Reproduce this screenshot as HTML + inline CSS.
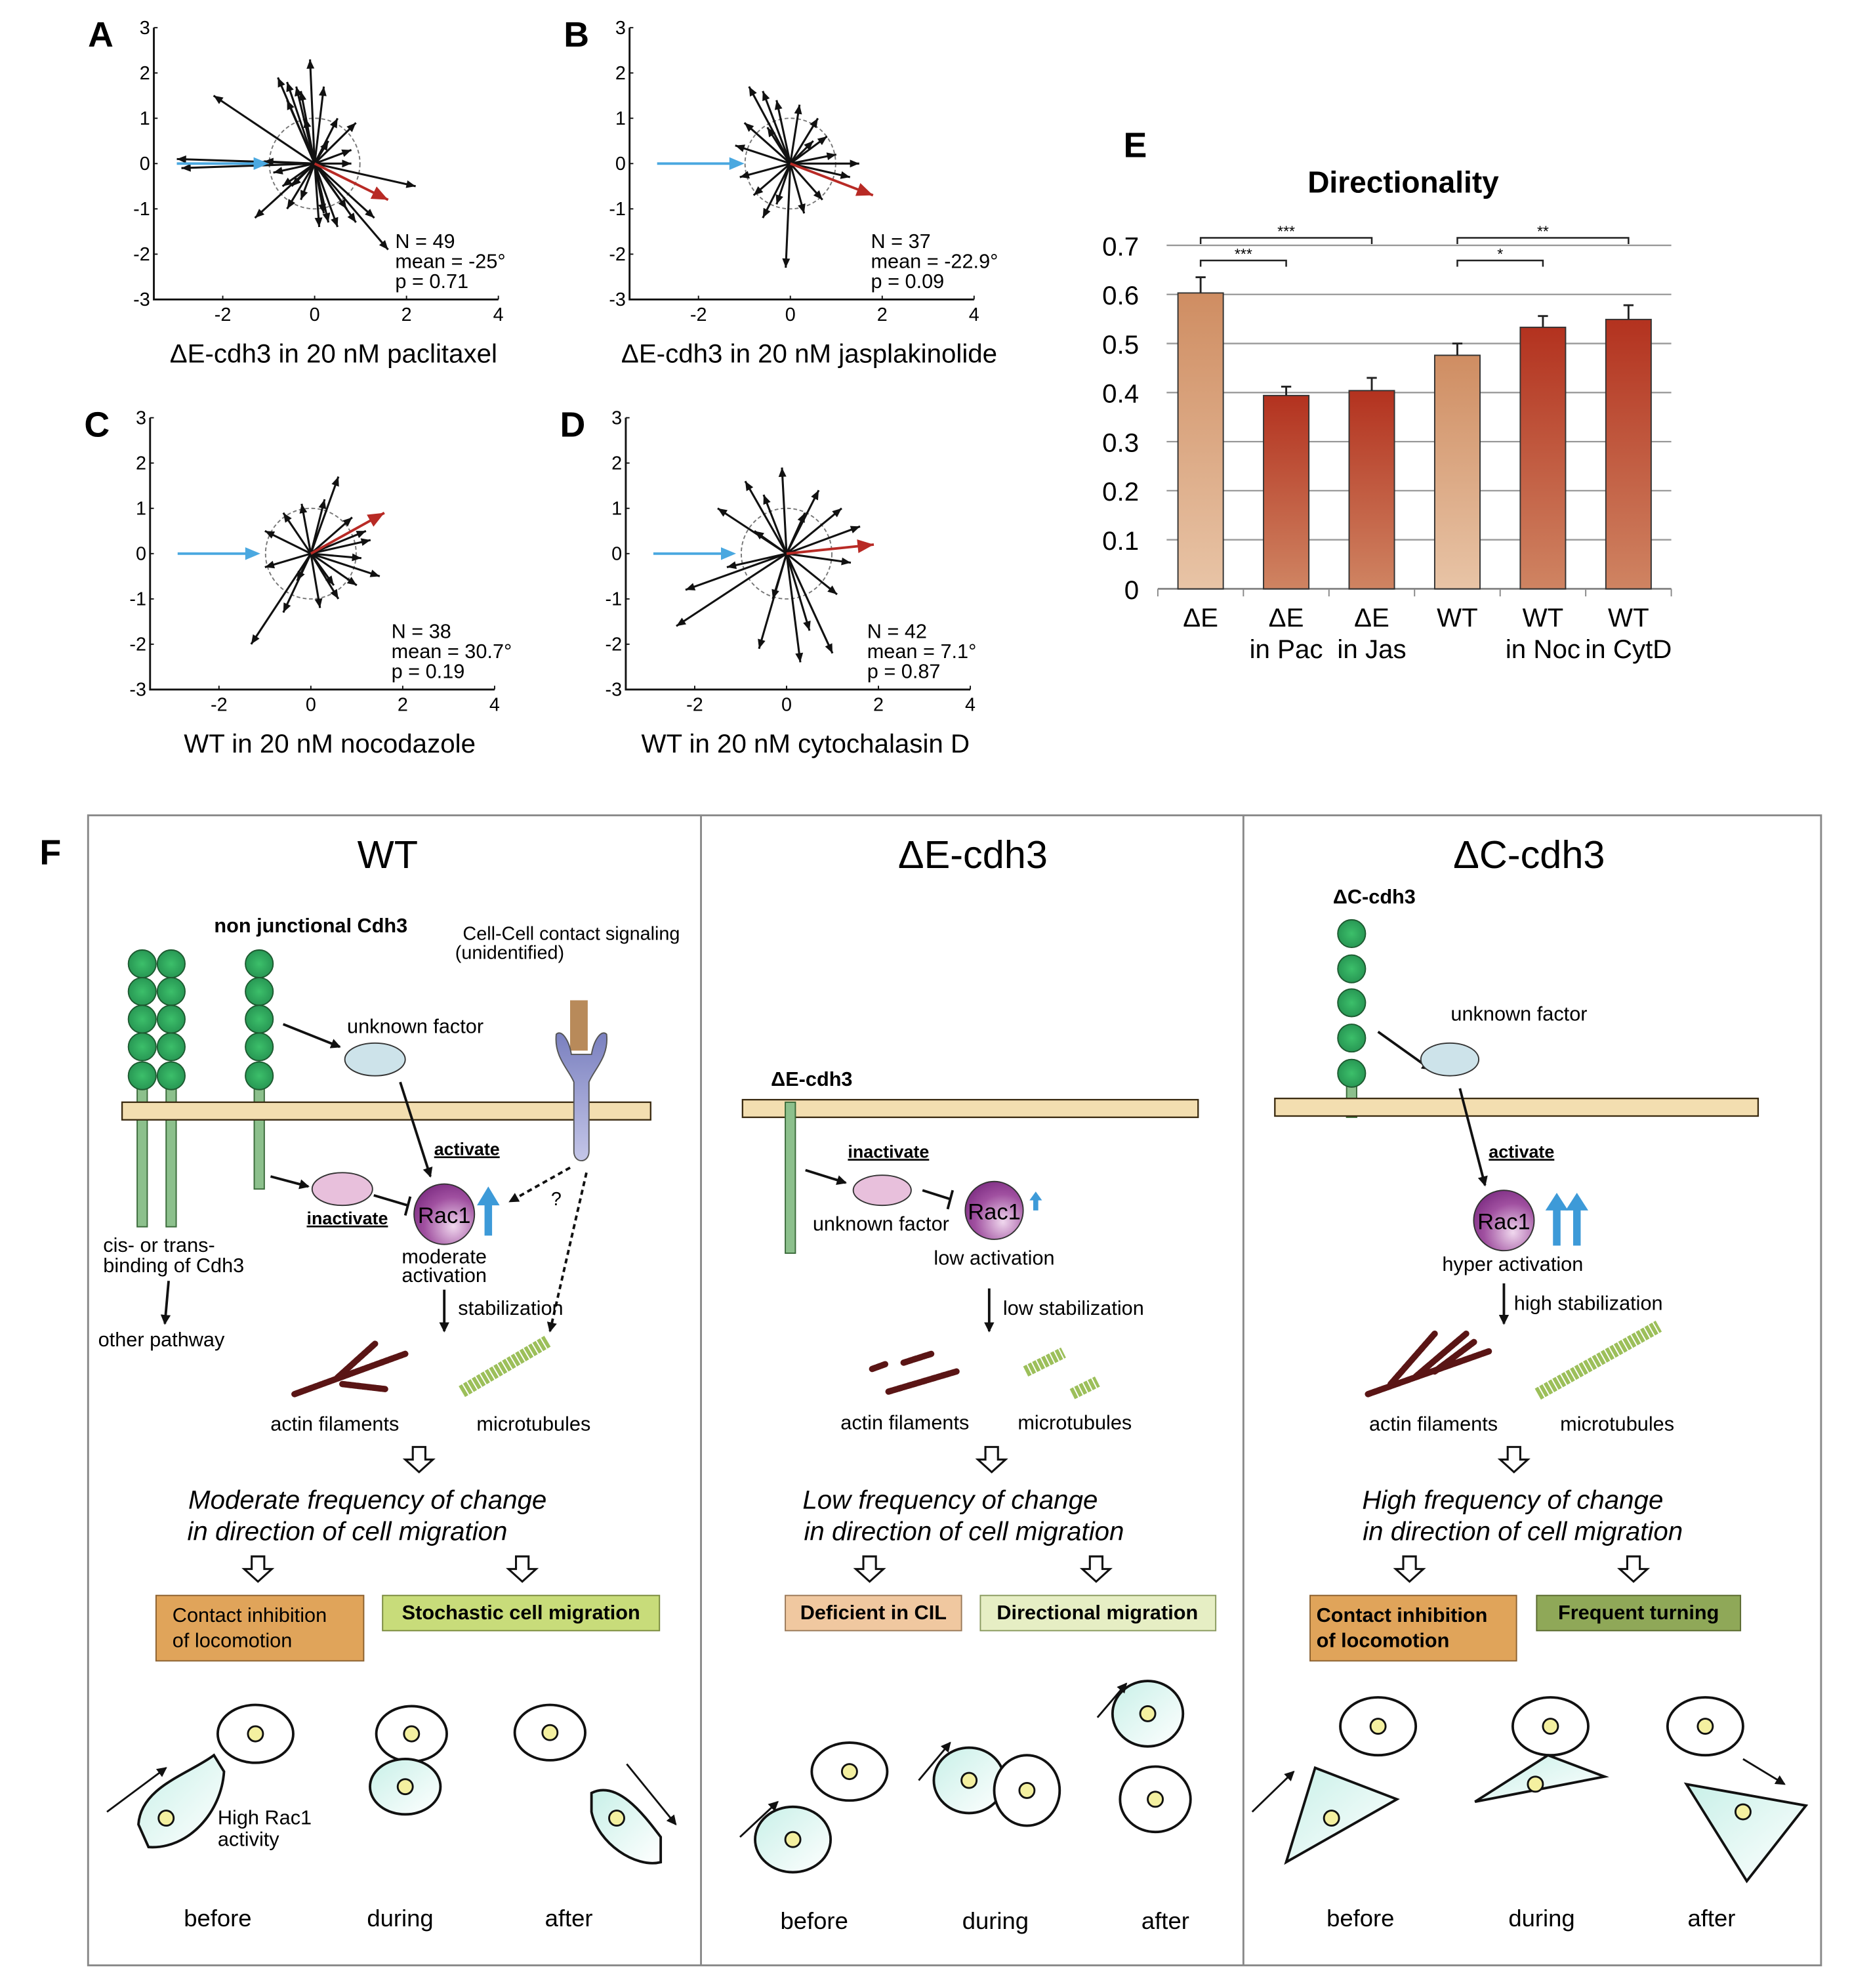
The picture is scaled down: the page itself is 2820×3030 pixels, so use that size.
<!DOCTYPE html>
<html><head><meta charset="utf-8"><style>
html,body{margin:0;padding:0;background:#fff;}
svg{display:block;}
text{font-family:"Liberation Sans",Arial,sans-serif;}
</style></head><body>
<svg id="fig" width="2820" height="3030" viewBox="0 0 1470 1580" preserveAspectRatio="none" xmlns="http://www.w3.org/2000/svg">
<defs>
<linearGradient id="gLight" x1="0" y1="0" x2="0" y2="1"><stop offset="0" stop-color="#cf8d62"/><stop offset="1" stop-color="#e8c4a6"/></linearGradient>
<linearGradient id="gRed" x1="0" y1="0" x2="0" y2="1"><stop offset="0" stop-color="#b3321f"/><stop offset="1" stop-color="#cf8462"/></linearGradient>
<radialGradient id="gRac" cx="0.65" cy="0.7" r="0.8"><stop offset="0" stop-color="#f0d8ee"/><stop offset="0.6" stop-color="#a050a0"/><stop offset="1" stop-color="#7a2a80"/></radialGradient>
<radialGradient id="gBead" cx="0.5" cy="0.5" r="0.6"><stop offset="0" stop-color="#3cbf6a"/><stop offset="1" stop-color="#249050"/></radialGradient>
<linearGradient id="gRec" x1="0" y1="0" x2="0" y2="1"><stop offset="0" stop-color="#7a80bf"/><stop offset="1" stop-color="#c4c6e8"/></linearGradient>
<linearGradient id="gCell" x1="0" y1="0" x2="1" y2="1"><stop offset="0" stop-color="#c8f0e8"/><stop offset="1" stop-color="#ffffff"/></linearGradient>
<marker id="ah" markerWidth="8" markerHeight="8" refX="7" refY="4" orient="auto" markerUnits="userSpaceOnUse"><path d="M0,0 L8,4 L0,8 z" fill="#111"/></marker>
</defs>

<g id="polars"></g>
<g id="barchart"></g>

<g>
<text x="40" y="687" font-size="28" font-weight="bold" text-anchor="middle">F</text>
<rect x="70" y="648" width="1377" height="914" fill="none" stroke="#888" stroke-width="1.5"/>
<line x1="557" y1="648" x2="557" y2="1562" stroke="#888" stroke-width="1.5"/>
<line x1="988" y1="648" x2="988" y2="1562" stroke="#888" stroke-width="1.5"/>
<text x="308" y="690" font-size="31" text-anchor="middle">WT</text>
<text x="773" y="690" font-size="31" text-anchor="middle">ΔE-cdh3</text>
<text x="1215" y="690" font-size="31" text-anchor="middle">ΔC-cdh3</text>

<g>
<text x="247" y="741" font-size="16" font-weight="bold" text-anchor="middle">non junctional Cdh3</text>
<text x="454" y="747" font-size="15" text-anchor="middle">Cell-Cell contact signaling</text>
<text x="405" y="762" font-size="15" text-anchor="middle">(unidentified)</text>
<rect x="109" y="865" width="8" height="110" fill="#8cc08c" stroke="#3a6a3a"/>
<rect x="132" y="865" width="8" height="110" fill="#8cc08c" stroke="#3a6a3a"/>
<rect x="202" y="865" width="8" height="80" fill="#8cc08c" stroke="#3a6a3a"/>
<g fill="url(#gBead)" stroke="#1d5a30" stroke-width="1">
<circle cx="113" cy="766" r="11"/><circle cx="113" cy="788" r="11"/><circle cx="113" cy="810" r="11"/><circle cx="113" cy="832" r="11"/><circle cx="113" cy="855" r="11"/>
<circle cx="136" cy="766" r="11"/><circle cx="136" cy="788" r="11"/><circle cx="136" cy="810" r="11"/><circle cx="136" cy="832" r="11"/><circle cx="136" cy="855" r="11"/>
<circle cx="206" cy="766" r="11"/><circle cx="206" cy="788" r="11"/><circle cx="206" cy="810" r="11"/><circle cx="206" cy="832" r="11"/><circle cx="206" cy="855" r="11"/>
</g>
<rect x="97" y="876" width="420" height="14" fill="#f3deb0" stroke="#3a2a10" stroke-width="1.2"/>
<rect x="453" y="795" width="14" height="40" fill="#b88a5a"/>
<path d="M442,822 C440,840 452,850 456,860 L456,915 C456,925 468,925 468,915 L468,860 C472,850 484,840 482,822 C478,818 472,826 470,838 L454,838 C452,826 446,818 442,822 Z" fill="url(#gRec)" stroke="#555"/>
<text x="330" y="821" font-size="16" text-anchor="middle">unknown factor</text>
<ellipse cx="298" cy="842" rx="24" ry="13" fill="#cde3ea" stroke="#333"/>
<line x1="225" y1="814" x2="270" y2="832" stroke="#111" stroke-width="2" marker-end="url(#ah)"/>
<line x1="318" y1="860" x2="342" y2="935" stroke="#111" stroke-width="2" marker-end="url(#ah)"/>
<text x="371" y="918" font-size="14" font-weight="bold" text-decoration="underline" text-anchor="middle">activate</text>
<ellipse cx="272" cy="945" rx="24" ry="13" fill="#e8c0dc" stroke="#333"/>
<line x1="215" y1="935" x2="245" y2="943" stroke="#111" stroke-width="2" marker-end="url(#ah)"/>
<text x="276" y="973" font-size="14" font-weight="bold" text-decoration="underline" text-anchor="middle">inactivate</text>
<path d="M297,950 L324,958 M326,951 L322,966" stroke="#111" stroke-width="2" fill="none"/>
<circle cx="353" cy="965" r="24" fill="url(#gRac)" stroke="#333"/>
<text x="353" y="972" font-size="18" text-anchor="middle">Rac1</text>
<path d="M385,982 L385,958 L379,958 L388,943 L397,958 L391,958 L391,982 Z" fill="#3d9ad8"/>
<line x1="453" y1="928" x2="405" y2="955" stroke="#111" stroke-width="2" stroke-dasharray="4,3" marker-end="url(#ah)"/>
<line x1="466" y1="932" x2="437" y2="1058" stroke="#111" stroke-width="2" stroke-dasharray="4,3" marker-end="url(#ah)"/>
<text x="442" y="958" font-size="15" text-anchor="middle">?</text>
<text x="353" y="1004" font-size="16" text-anchor="middle">moderate</text>
<text x="353" y="1019" font-size="16" text-anchor="middle">activation</text>
<text x="82" y="995" font-size="16">cis- or trans-</text>
<text x="82" y="1011" font-size="16">binding of Cdh3</text>
<line x1="134" y1="1018" x2="131" y2="1052" stroke="#111" stroke-width="2" marker-end="url(#ah)"/>
<text x="78" y="1070" font-size="16">other pathway</text>
<line x1="353" y1="1025" x2="353" y2="1058" stroke="#111" stroke-width="2" marker-end="url(#ah)"/>
<text x="364" y="1045" font-size="16">stabilization</text>
<g stroke="#5a1515" stroke-width="5" stroke-linecap="round" stroke-dasharray="3,1">
<line x1="234" y1="1108" x2="322" y2="1076"/><line x1="268" y1="1095" x2="298" y2="1068"/><line x1="272" y1="1100" x2="306" y2="1104"/>
</g>
<line x1="367" y1="1106" x2="435" y2="1066" stroke="#9cbf5a" stroke-width="10" stroke-dasharray="3,1"/>
<text x="266" y="1137" font-size="16" text-anchor="middle">actin filaments</text>
<text x="424" y="1137" font-size="16" text-anchor="middle">microtubules</text>
<text x="292" y="1199" font-size="21" font-style="italic" text-anchor="middle">Moderate frequency of change</text>
<text x="276" y="1224" font-size="21" font-style="italic" text-anchor="middle">in direction of cell migration</text>
<rect x="124" y="1268" width="165" height="52" fill="#e0a45a" stroke="#8a6030"/>
<text x="137" y="1289" font-size="16">Contact inhibition</text>
<text x="137" y="1309" font-size="16">of locomotion</text>
<rect x="304" y="1268" width="220" height="28" fill="#c8dc7a" stroke="#7a8a40"/>
<text x="414" y="1287" font-size="16" font-weight="bold" text-anchor="middle">Stochastic cell migration</text>
<text x="173" y="1531" font-size="19" text-anchor="middle">before</text>
<text x="318" y="1531" font-size="19" text-anchor="middle">during</text>
<text x="452" y="1531" font-size="19" text-anchor="middle">after</text>
<text x="173" y="1450" font-size="16">High Rac1</text>
<text x="173" y="1467" font-size="16">activity</text>
</g>

<g>
<text x="645" y="863" font-size="16" font-weight="bold" text-anchor="middle">ΔE-cdh3</text>
<rect x="590" y="874" width="362" height="14" fill="#f3deb0" stroke="#3a2a10" stroke-width="1.2"/>
<rect x="624" y="876" width="8" height="120" fill="#8cc08c" stroke="#3a6a3a"/>
<text x="706" y="920" font-size="14" font-weight="bold" text-decoration="underline" text-anchor="middle">inactivate</text>
<line x1="640" y1="930" x2="672" y2="940" stroke="#111" stroke-width="2" marker-end="url(#ah)"/>
<ellipse cx="701" cy="946" rx="23" ry="12" fill="#e8c0dc" stroke="#333"/>
<path d="M733,946 L755,953 M757,946 L753,961" stroke="#111" stroke-width="2" fill="none"/>
<circle cx="790" cy="962" r="23" fill="url(#gRac)" stroke="#333"/>
<text x="790" y="969" font-size="18" text-anchor="middle">Rac1</text>
<path d="M821,962 L821,954 L818,954 L823,947 L828,954 L825,954 L825,962 Z" fill="#3d9ad8"/>
<text x="700" y="978" font-size="16" text-anchor="middle">unknown factor</text>
<text x="790" y="1005" font-size="16" text-anchor="middle">low activation</text>
<line x1="786" y1="1024" x2="786" y2="1058" stroke="#111" stroke-width="2" marker-end="url(#ah)"/>
<text x="797" y="1045" font-size="16">low stabilization</text>
<g stroke="#5a1515" stroke-width="5" stroke-linecap="round" stroke-dasharray="3,1">
<line x1="693" y1="1088" x2="704" y2="1084"/><line x1="718" y1="1083" x2="740" y2="1076"/><line x1="706" y1="1106" x2="760" y2="1090"/>
</g>
<g stroke="#9cbf5a" stroke-width="9" stroke-dasharray="3,1"><line x1="815" y1="1090" x2="845" y2="1075"/><line x1="852" y1="1108" x2="872" y2="1098"/></g>
<text x="719" y="1136" font-size="16" text-anchor="middle">actin filaments</text>
<text x="854" y="1136" font-size="16" text-anchor="middle">microtubules</text>
<text x="755" y="1199" font-size="21" font-style="italic" text-anchor="middle">Low frequency of change</text>
<text x="766" y="1224" font-size="21" font-style="italic" text-anchor="middle">in direction of cell migration</text>
<rect x="624" y="1268" width="140" height="28" fill="#f0c8a0" stroke="#9a7a5a"/>
<text x="694" y="1287" font-size="16" font-weight="bold" text-anchor="middle">Deficient in CIL</text>
<rect x="779" y="1268" width="187" height="28" fill="#e6eec4" stroke="#8a9a60"/>
<text x="872" y="1287" font-size="16" font-weight="bold" text-anchor="middle">Directional migration</text>
<text x="647" y="1533" font-size="19" text-anchor="middle">before</text>
<text x="791" y="1533" font-size="19" text-anchor="middle">during</text>
<text x="926" y="1533" font-size="19" text-anchor="middle">after</text>
</g>

<g>
<text x="1092" y="718" font-size="16" font-weight="bold" text-anchor="middle">ΔC-cdh3</text>
<rect x="1070" y="860" width="8" height="28" fill="#8cc08c" stroke="#3a6a3a"/>
<g fill="url(#gBead)" stroke="#1d5a30"><circle cx="1074" cy="742" r="11"/><circle cx="1074" cy="770" r="11"/><circle cx="1074" cy="797" r="11"/><circle cx="1074" cy="825" r="11"/><circle cx="1074" cy="853" r="11"/></g>
<rect x="1013" y="873" width="384" height="14" fill="#f3deb0" stroke="#3a2a10" stroke-width="1.2"/>
<line x1="1095" y1="820" x2="1137" y2="850" stroke="#111" stroke-width="2" marker-end="url(#ah)"/>
<text x="1207" y="811" font-size="16" text-anchor="middle">unknown factor</text>
<ellipse cx="1152" cy="842" rx="23" ry="13" fill="#cde3ea" stroke="#333"/>
<line x1="1160" y1="865" x2="1180" y2="942" stroke="#111" stroke-width="2" marker-end="url(#ah)"/>
<text x="1209" y="920" font-size="14" font-weight="bold" text-decoration="underline" text-anchor="middle">activate</text>
<circle cx="1195" cy="970" r="24" fill="url(#gRac)" stroke="#333"/>
<text x="1195" y="977" font-size="18" text-anchor="middle">Rac1</text>
<path d="M1234,990 L1234,962 L1228,962 L1237,948 L1246,962 L1240,962 L1240,990 Z" fill="#3d9ad8"/>
<path d="M1250,990 L1250,962 L1244,962 L1253,948 L1262,962 L1256,962 L1256,990 Z" fill="#3d9ad8"/>
<text x="1202" y="1010" font-size="16" text-anchor="middle">hyper activation</text>
<line x1="1195" y1="1020" x2="1195" y2="1052" stroke="#111" stroke-width="2" marker-end="url(#ah)"/>
<text x="1203" y="1041" font-size="16">high stabilization</text>
<g stroke="#5a1515" stroke-width="5" stroke-linecap="round" stroke-dasharray="3,1">
<line x1="1087" y1="1108" x2="1183" y2="1074"/><line x1="1105" y1="1100" x2="1140" y2="1060"/><line x1="1125" y1="1094" x2="1165" y2="1060"/><line x1="1140" y1="1090" x2="1172" y2="1066"/>
</g>
<line x1="1222" y1="1108" x2="1318" y2="1054" stroke="#9cbf5a" stroke-width="10" stroke-dasharray="3,1"/>
<text x="1139" y="1137" font-size="16" text-anchor="middle">actin filaments</text>
<text x="1285" y="1137" font-size="16" text-anchor="middle">microtubules</text>
<text x="1202" y="1199" font-size="21" font-style="italic" text-anchor="middle">High frequency of change</text>
<text x="1210" y="1224" font-size="21" font-style="italic" text-anchor="middle">in direction of cell migration</text>
<rect x="1041" y="1268" width="164" height="52" fill="#e0a45a" stroke="#8a6030"/>
<text x="1046" y="1289" font-size="16" font-weight="bold">Contact inhibition</text>
<text x="1046" y="1309" font-size="16" font-weight="bold">of locomotion</text>
<rect x="1221" y="1268" width="162" height="28" fill="#8fa858" stroke="#5a6a30"/>
<text x="1302" y="1287" font-size="16" font-weight="bold" text-anchor="middle">Frequent turning</text>
<text x="1081" y="1531" font-size="19" text-anchor="middle">before</text>
<text x="1225" y="1531" font-size="19" text-anchor="middle">during</text>
<text x="1360" y="1531" font-size="19" text-anchor="middle">after</text>
</g>

<g fill="#fff" stroke="#111" stroke-width="1.6">
<path d="M328,1150 h10 v10 h6 l-11,10 l-11,-10 h6 z"/><path d="M200,1237 h10 v10 h6 l-11,10 l-11,-10 h6 z"/><path d="M410,1237 h10 v10 h6 l-11,10 l-11,-10 h6 z"/>
<path d="M783,1150 h10 v10 h6 l-11,10 l-11,-10 h6 z"/><path d="M686,1237 h10 v10 h6 l-11,10 l-11,-10 h6 z"/><path d="M866,1237 h10 v10 h6 l-11,10 l-11,-10 h6 z"/>
<path d="M1198,1150 h10 v10 h6 l-11,10 l-11,-10 h6 z"/><path d="M1115,1237 h10 v10 h6 l-11,10 l-11,-10 h6 z"/><path d="M1293,1237 h10 v10 h6 l-11,10 l-11,-10 h6 z"/>
</g>

<g stroke="#111" stroke-width="2">
<ellipse cx="203" cy="1378" rx="30" ry="23" fill="#fff"/>
<path d="M110,1450 C112,1420 150,1410 170,1395 L178,1408 C176,1440 150,1470 118,1468 Z" fill="url(#gCell)"/>
<ellipse cx="327" cy="1378" rx="28" ry="22" fill="#fff"/>
<ellipse cx="322" cy="1420" rx="28" ry="22" fill="url(#gCell)"/>
<ellipse cx="437" cy="1377" rx="28" ry="22" fill="#fff"/>
<path d="M470,1425 C490,1415 510,1440 525,1460 L525,1480 C505,1485 475,1465 470,1440 Z" fill="url(#gCell)"/>
<ellipse cx="675" cy="1408" rx="30" ry="23" fill="#fff"/>
<ellipse cx="630" cy="1462" rx="30" ry="26" fill="url(#gCell)"/>
<ellipse cx="770" cy="1415" rx="28" ry="26" fill="url(#gCell)"/>
<ellipse cx="816" cy="1423" rx="26" ry="28" fill="#fff"/>
<ellipse cx="912" cy="1362" rx="28" ry="26" fill="url(#gCell)"/>
<ellipse cx="918" cy="1430" rx="28" ry="26" fill="#fff"/>
<ellipse cx="1095" cy="1372" rx="30" ry="23" fill="#fff"/>
<ellipse cx="1232" cy="1372" rx="30" ry="23" fill="#fff"/>
<ellipse cx="1355" cy="1372" rx="30" ry="23" fill="#fff"/>
<path d="M1022,1480 L1045,1405 L1110,1430 Z" fill="url(#gCell)"/>
<path d="M1172,1432 L1230,1395 L1275,1412 Z" fill="url(#gCell)"/>
<path d="M1340,1418 L1435,1435 L1388,1495 Z" fill="url(#gCell)"/>
</g>
<g fill="#f4f0a0" stroke="#111" stroke-width="1.5">
<circle cx="203" cy="1378" r="6"/><circle cx="132" cy="1445" r="6"/><circle cx="327" cy="1378" r="6"/><circle cx="322" cy="1420" r="6"/><circle cx="437" cy="1377" r="6"/><circle cx="490" cy="1445" r="6"/>
<circle cx="675" cy="1408" r="6"/><circle cx="630" cy="1462" r="6"/><circle cx="770" cy="1415" r="6"/><circle cx="816" cy="1423" r="6"/><circle cx="912" cy="1362" r="6"/><circle cx="918" cy="1430" r="6"/>
<circle cx="1095" cy="1372" r="6"/><circle cx="1232" cy="1372" r="6"/><circle cx="1355" cy="1372" r="6"/><circle cx="1058" cy="1445" r="6"/><circle cx="1220" cy="1418" r="6"/><circle cx="1385" cy="1440" r="6"/>
</g>
<g stroke="#111" stroke-width="1.5">
<line x1="85" y1="1440" x2="132" y2="1405" marker-end="url(#ah)"/>
<line x1="498" y1="1402" x2="537" y2="1450" marker-end="url(#ah)"/>
<line x1="588" y1="1460" x2="618" y2="1432" marker-end="url(#ah)"/>
<line x1="730" y1="1415" x2="755" y2="1385" marker-end="url(#ah)"/>
<line x1="872" y1="1365" x2="895" y2="1338" marker-end="url(#ah)"/>
<line x1="995" y1="1440" x2="1028" y2="1408" marker-end="url(#ah)"/>
<line x1="1385" y1="1398" x2="1418" y2="1418" marker-end="url(#ah)"/>
</g>
</g>
</svg>
<script>
const panelNames = ["A","B","C","D"];
const captionsAB = ["ΔE-cdh3  in 20 nM paclitaxel","ΔE-cdh3  in 20 nM jasplakinolide","WT in 20 nM nocodazole","WT in 20 nM cytochalasin D"];
const statsN = [49,37,38,42];
const statsMean = ["-25°","-22.9°","30.7°","7.1°"];
const statsP = ["0.71","0.09","0.19","0.87"];
const xTicksPolar = [-2,0,2,4];
const yTicksPolar = [3,2,1,0,-1,-2,-3];
const arrowsA_x = [-3,-2.9,-2.2,-1.3,-0.9,-0.5,-0.8,-0.6,-0.4,-0.3,-0.1,0.2,0.5,0.9,0.8,0.8,2.2,1.6,1.3,0.9,0.5,0.3,0.1,0.7,0.2,-0.3,-0.7,-0.6,-0.2,0.3,-1.1,-0.6];
const arrowsA_y = [0.1,-0.1,1.5,-1.2,-0.2,-0.5,1.9,1.8,1.7,1.6,2.3,1.7,1.0,0.9,0.3,0,-0.5,-1.9,-1.2,-1.3,-1.4,-1.3,-1.4,-1,-1.1,-0.8,-0.5,-1.0,1.0,0.5,0.05,1.4];
const arrowsB_x = [-0.9,-0.6,-0.3,0.2,0.6,0.8,1.0,1.5,1.3,-1.0,-1.2,-1.1,-0.8,-0.6,-0.1,0.3,0.7,-0.3,0.5,-0.5];
const arrowsB_y = [1.7,1.6,1.4,1.3,1.0,0.6,0.2,0,-0.3,0.9,0.4,-0.3,-0.7,-1.2,-2.3,-1.1,-0.8,-0.9,0.5,0.8];
const arrowsC_x = [-1.3,-0.6,0.2,0.6,1.0,1.5,1.3,1.2,0.6,0.3,-0.2,-0.6,-1.0,-1.0,0.9,0.5,-0.3,1.1];
const arrowsC_y = [-2.0,-1.3,-1.2,-1.0,-0.7,-0.5,0.3,0.5,1.7,1.2,1.1,0.9,0.5,-0.3,0.8,-0.7,-0.6,-0.1];
const arrowsD_x = [-2.4,-2.2,-1.3,-0.6,0.3,0.5,1.0,1.1,1.4,1.6,1.2,0.7,-0.1,-0.5,-0.9,-1.5,-0.7,0.4,-0.3];
const arrowsD_y = [-1.6,-0.8,-0.3,-2.1,-2.4,-1.7,-2.2,-0.9,-0.2,0.6,1.0,1.4,1.9,1.3,1.6,1.0,0.5,0.9,-1.0];
const meanX = [1.6,1.8,1.6,1.9];
const meanY = [-0.8,-0.7,0.9,0.2];
const blueStart = [-3,-2.9,-2.9,-2.9];
const blueEnd = [-1.0,-1.0,-1.1,-1.1];

const barCategories = ["ΔE","ΔE|in Pac","ΔE|in Jas","WT","WT|in Noc","WT|in CytD"];
const barValues = [0.603,0.394,0.404,0.476,0.533,0.549];
const barErrors = [0.032,0.018,0.026,0.024,0.023,0.029];
const barTone = ["light","red","red","light","red","red"];
const barYTicks = [0,0.1,0.2,0.3,0.4,0.5,0.6,0.7];

const NS = "http://www.w3.org/2000/svg";
function el(tag, attrs, parent){ const e=document.createElementNS(NS,tag); for(const k in attrs) e.setAttribute(k,attrs[k]); parent.appendChild(e); return e; }

const polarG = document.getElementById("polars");
const origins = [[250,130],[628,130],[247,440],[625,440]];
const arrX = [arrowsA_x,arrowsB_x,arrowsC_x,arrowsD_x];
const arrY = [arrowsA_y,arrowsB_y,arrowsC_y,arrowsD_y];
const ux = 36.5, uy = 36;

function arrowHead(g, x1,y1,x2,y2,size,color){
  const a=Math.atan2(y2-y1,x2-x1);
  const p=[[x2,y2],[x2-size*Math.cos(a-0.4),y2-size*Math.sin(a-0.4)],[x2-size*Math.cos(a+0.4),y2-size*Math.sin(a+0.4)]];
  return el("polygon",{points:p.map(q=>q.join(",")).join(" "),fill:color},g);
}

for(let i=0;i<4;i++){
  const ox=origins[i][0], oy=origins[i][1];
  const sx=v=>ox+v*ux, sy=v=>oy-v*uy;
  const g=el("g",{},polarG);
  
  
  const lab=el("text",{x:ox-170,y:oy-93,"font-size":28,"font-weight":"bold","text-anchor":"middle"},g);
  lab.textContent=panelNames[i];
  
  
  const ax=sx(-3.5);
  const yAxis=el("path",{d:`M${ax},${sy(3)} L${ax},${sy(-3)} L${sx(4)},${sy(-3)}`,stroke:"#111","stroke-width":1.5,fill:"none"},g);
  
  
  yTicksPolar.forEach(t=>{
    el("line",{x1:ax,y1:sy(t),x2:ax+3,y2:sy(t),stroke:"#111"},g);
    const tt=el("text",{x:ax-3,y:sy(t)+5,"font-size":15,"text-anchor":"end"},g);
    tt.textContent=t;
    
    
  });
  xTicksPolar.forEach(t=>{
    el("line",{x1:sx(t),y1:sy(-3),x2:sx(t),y2:sy(-3)-3,stroke:"#111"},g);
    const tt=el("text",{x:sx(t),y:sy(-3)+17,"font-size":15,"text-anchor":"middle"},g);
    tt.textContent=t;
    
    
  });
  const circ=el("circle",{cx:ox,cy:oy,r:36,fill:"none",stroke:"#777","stroke-width":1,"stroke-dasharray":"3,2"},g);
  
  
  for(let j=0;j<arrX[i].length;j++){
    const x2=sx(arrX[i][j]), y2=sy(arrY[i][j]);
    const ln=el("line",{x1:ox,y1:oy,x2:x2,y2:y2,stroke:"#111","stroke-width":1.6},g);
    
    
    arrowHead(g,ox,oy,x2,y2,8,"#111");
  }
  const bx1=sx(blueStart[i]), bx2=sx(blueEnd[i]);
  const bl=el("line",{x1:bx1,y1:oy,x2:bx2-8,y2:oy,stroke:"#4aa8e0","stroke-width":2},g);
  
  
  arrowHead(g,bx1,oy,bx2,oy,13,"#4aa8e0");
  const mx=sx(meanX[i]), my=sy(meanY[i]);
  const ml=el("line",{x1:ox,y1:oy,x2:mx,y2:my,stroke:"#b82a25","stroke-width":2},g);
  
  
  arrowHead(g,ox,oy,mx,my,14,"#b82a25");
  const st=[`N = ${statsN[i]}`,`mean = ${statsMean[i]}`,`p = ${statsP[i]}`];
  st.forEach((s,k)=>{
    const t=el("text",{x:ox+64,y:oy+67+k*16,"font-size":16},g);
    t.textContent=s;
    
    
  });
  const cap=el("text",{x:ox+15,y:oy+158,"font-size":21,"text-anchor":"middle"},g);
  cap.textContent=captionsAB[i];
  
  
}

const bg=document.getElementById("barchart");
const y0=468, yTop=195, vMax=0.7;
const by=v=>y0-(v/vMax)*(y0-yTop);
const bx0=920, bStep=68;
const bxc=i=>bx0+bStep*(i+0.5);
const eL=el("text",{x:902,y:125,"font-size":28,"font-weight":"bold","text-anchor":"middle"},bg);
eL.textContent="E";


const ttl=el("text",{x:1115,y:153,"font-size":24,"font-weight":"bold","text-anchor":"middle"},bg);
ttl.textContent="Directionality";


barYTicks.forEach(t=>{
  if(t>0){ const gl=el("line",{x1:927,y1:by(t),x2:1328,y2:by(t),stroke:"#999","stroke-width":1.2},bg);
    
     }
  const tl=el("text",{x:905,y:by(t)+8,"font-size":21,"text-anchor":"end"},bg);
  tl.textContent=t===0?"0":t.toFixed(1);
  
  
});
const xa=el("line",{x1:920,y1:y0,x2:1328,y2:y0,stroke:"#888","stroke-width":1.5},bg);


for(let i=0;i<=barCategories.length;i++){ el("line",{x1:bx0+bStep*i,y1:y0,x2:bx0+bStep*i,y2:y0+6,stroke:"#888"},bg); }
barCategories.forEach((c,i)=>{
  const x=bxc(i);
  const r=el("rect",{x:x-18,y:by(barValues[i]),width:36,height:y0-by(barValues[i]),fill:barTone[i]==="light"?"url(#gLight)":"url(#gRed)",stroke:"#333","stroke-width":1},bg);
  
  
  const top=by(barValues[i]+barErrors[i]);
  const er=el("path",{d:`M${x},${by(barValues[i])} L${x},${top} M${x-4},${top} L${x+4},${top}`,stroke:"#222","stroke-width":1.5},bg);
  
  
  const parts=c.split("|");
  parts.forEach((p,k)=>{
    const t=el("text",{x:x,y:498+k*25,"font-size":21,"text-anchor":"middle"},bg);
    t.textContent=p;
    
    
  });
});
const sig=[[0,2,189,"***"],[0,1,207,"***"],[3,5,189,"**"],[3,4,207,"*"]];
sig.forEach(s=>{
  const x1=bxc(s[0]), x2=bxc(s[1]), y=s[2];
  const p=el("path",{d:`M${x1},${y+5} L${x1},${y} L${x2},${y} L${x2},${y+5}`,stroke:"#222","stroke-width":1.3,fill:"none"},bg);
  
  
  const t=el("text",{x:(x1+x2)/2,y:y-1,"font-size":12,"text-anchor":"middle"},bg);
  t.textContent=s[3];
  
  
});
</script>
</body></html>
